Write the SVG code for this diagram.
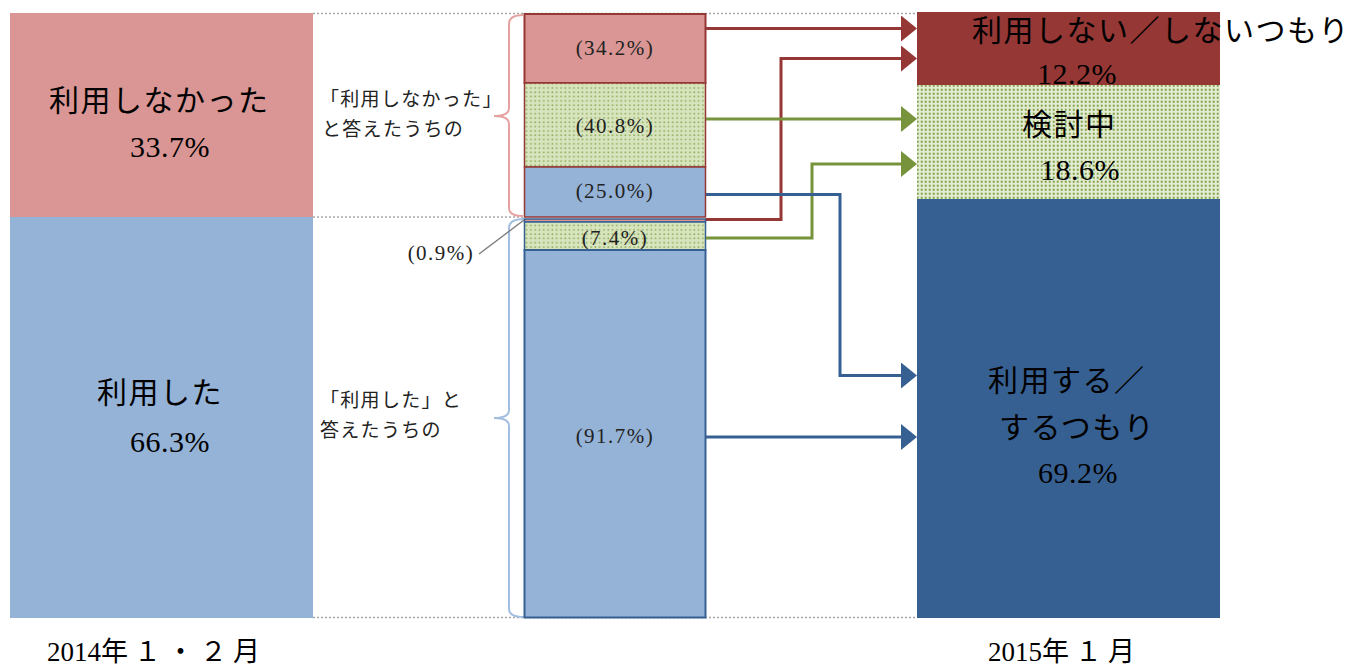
<svg xmlns="http://www.w3.org/2000/svg" width="1365" height="666" viewBox="0 0 1365 666">
<style>
.big{font-family:"Liberation Serif","Noto Sans CJK JP",serif;font-size:30px;fill:#000;letter-spacing:1.5px}
.num{font-family:"Liberation Serif","Noto Sans CJK JP",serif;font-size:30px;fill:#000;letter-spacing:0.5px}
.sm{font-family:"Liberation Serif","Noto Sans CJK JP",serif;font-size:19px;fill:#222;letter-spacing:1.3px}
.pc{font-family:"Liberation Serif","Noto Sans CJK JP",serif;font-size:21px;fill:#222;text-anchor:middle;letter-spacing:1.5px}
.ax{font-family:"Liberation Serif","Noto Sans CJK JP",serif;font-size:27px;fill:#000}
.ax tspan{letter-spacing:6px}
.dot{fill:none;stroke:#A6A6A6;stroke-width:1.5;stroke-dasharray:2 2}
.red{fill:none;stroke:#953735;stroke-width:3}
.grn{fill:none;stroke:#77933C;stroke-width:3}
.blu{fill:none;stroke:#376092;stroke-width:3}
</style>
<defs>
<pattern id="g1" width="4.3" height="4.3" patternUnits="userSpaceOnUse">
<rect width="4.3" height="4.3" fill="#D7E4BD"/>
<circle cx="2" cy="2" r="0.9" fill="#8CAA58"/>
</pattern>
<pattern id="g2" width="4" height="4" patternUnits="userSpaceOnUse">
<rect width="4" height="4" fill="#E3ECD3"/>
<rect x="0.5" y="0.5" width="2.5" height="2.5" fill="#C5D6A3"/>
<circle cx="1.75" cy="1.75" r="0.9" fill="#7F9F4A"/>
</pattern>
<marker id="ar" viewBox="0 0 16 26" markerWidth="16" markerHeight="26" markerUnits="userSpaceOnUse" refX="4" refY="13" orient="auto"><path d="M0,0 L16,13 L0,26 z" fill="#953735"/></marker>
<marker id="ag" viewBox="0 0 16 26" markerWidth="16" markerHeight="26" markerUnits="userSpaceOnUse" refX="4" refY="13" orient="auto"><path d="M0,0 L16,13 L0,26 z" fill="#77933C"/></marker>
<marker id="ab" viewBox="0 0 16 26" markerWidth="16" markerHeight="26" markerUnits="userSpaceOnUse" refX="4" refY="13" orient="auto"><path d="M0,0 L16,13 L0,26 z" fill="#376092"/></marker>
</defs>
<rect width="1365" height="666" fill="#fff"/>

<g id="guides">
<line class="dot" x1="313" y1="13.5" x2="917" y2="13.5"/>
<line class="dot" x1="313" y1="217" x2="524" y2="217"/>
<line class="dot" x1="313" y1="617.5" x2="917" y2="617.5"/>
</g>

<g id="left-not-used">
<rect x="10" y="13" width="303" height="204" fill="#D99694"/>
<text class="big" x="49" y="111">利用しなかった</text>
<text class="num" x="130" y="157">33.7%</text>
</g>
<g id="left-used">
<rect x="10" y="217" width="303" height="401" fill="#95B3D7"/>
<text class="big" x="97" y="403">利用した</text>
<text class="num" x="130" y="452">66.3%</text>
</g>

<g id="brace-not-used">
<path d="M523,15 Q509,15 509,24 L509,108 Q509,116 494,116 Q509,116 509,124 L509,208 Q509,216 523,216" fill="none" stroke="#E6A2A0" stroke-width="2"/>
<text class="sm" x="320" y="106">「利用しなかった」</text>
<text class="sm" x="322" y="136">と答えたうちの</text>
</g>
<g id="brace-used">
<path d="M524,219 Q509,219 509,228 L509,410 Q509,418 494,418 Q509,418 509,426 L509,609 Q509,617 524,617" fill="none" stroke="#A3BEE0" stroke-width="2"/>
<text class="sm" x="320" y="407">「利用した」と</text>
<text class="sm" x="320" y="437">答えたうちの</text>
</g>

<g id="mid-34">
<rect x="524.5" y="14" width="181" height="69" fill="#D99694" stroke="#953735" stroke-width="2"/>
<text class="pc" x="615" y="55">(34.2%)</text>
</g>
<g id="mid-40">
<rect x="524.5" y="83" width="181" height="84" fill="url(#g1)" stroke="#953735" stroke-width="1.5"/>
<text class="pc" x="615" y="133">(40.8%)</text>
</g>
<g id="mid-25">
<rect x="524.5" y="167" width="181" height="50" fill="#95B3D7" stroke="#953735" stroke-width="1.5"/>
<text class="pc" x="615" y="198">(25.0%)</text>
</g>
<g id="mid-09">
<rect x="524.5" y="219" width="181" height="3" fill="#D99694" stroke="#376092" stroke-width="1.5"/>
<line x1="479" y1="254" x2="524" y2="220" stroke="#7F7F7F" stroke-width="1.5"/>
<text class="pc" x="441" y="260">(0.9%)</text>
</g>
<g id="mid-74">
<rect x="524.5" y="222" width="181" height="28" fill="url(#g1)" stroke="#376092" stroke-width="1.5"/>
<text class="pc" x="615" y="245">(7.4%)</text>
</g>
<g id="mid-917">
<rect x="524.5" y="250" width="181" height="367.5" fill="#95B3D7" stroke="#376092" stroke-width="2"/>
<text class="pc" x="615" y="443">(91.7%)</text>
</g>

<g id="right-not-use">
<rect x="917" y="12" width="303" height="73" fill="#953735"/>
</g>
<g id="right-considering">
<rect x="917" y="85" width="303" height="114" fill="url(#g2)"/>
<text class="big" x="1022" y="135">検討中</text>
<text class="num" x="1040" y="180">18.6%</text>
</g>
<g id="right-use">
<rect x="917" y="199" width="303" height="419" fill="#376092"/>
<text class="big" x="988" y="391">利用する／</text>
<text class="big" x="999" y="438">するつもり</text>
<text class="num" x="1038" y="483">69.2%</text>
</g>

<g id="connectors">
<polyline class="red" points="706,28.5 905,28.5" marker-end="url(#ar)"/>
<polyline class="red" points="706,219.5 781,219.5 781,58.5 905,58.5" marker-end="url(#ar)"/>
<polyline class="grn" points="706,119 905,119" marker-end="url(#ag)"/>
<polyline class="grn" points="706,238 812,238 812,164 905,164" marker-end="url(#ag)"/>
<polyline class="blu" points="706,194.5 840,194.5 840,375.5 905,375.5" marker-end="url(#ab)"/>
<polyline class="blu" points="706,437 905,437" marker-end="url(#ab)"/>
</g>

<g id="right-not-use-labels">
<text class="big" x="972" y="41">利用しない／しないつもり</text>
<text class="num" x="1037" y="84">12.2%</text>
</g>

<g id="axis-labels">
<text class="ax" x="47" y="661">2014<tspan>年１・２月</tspan></text>
<text class="ax" x="988" y="661">2015<tspan>年１月</tspan></text>
</g>
</svg>
